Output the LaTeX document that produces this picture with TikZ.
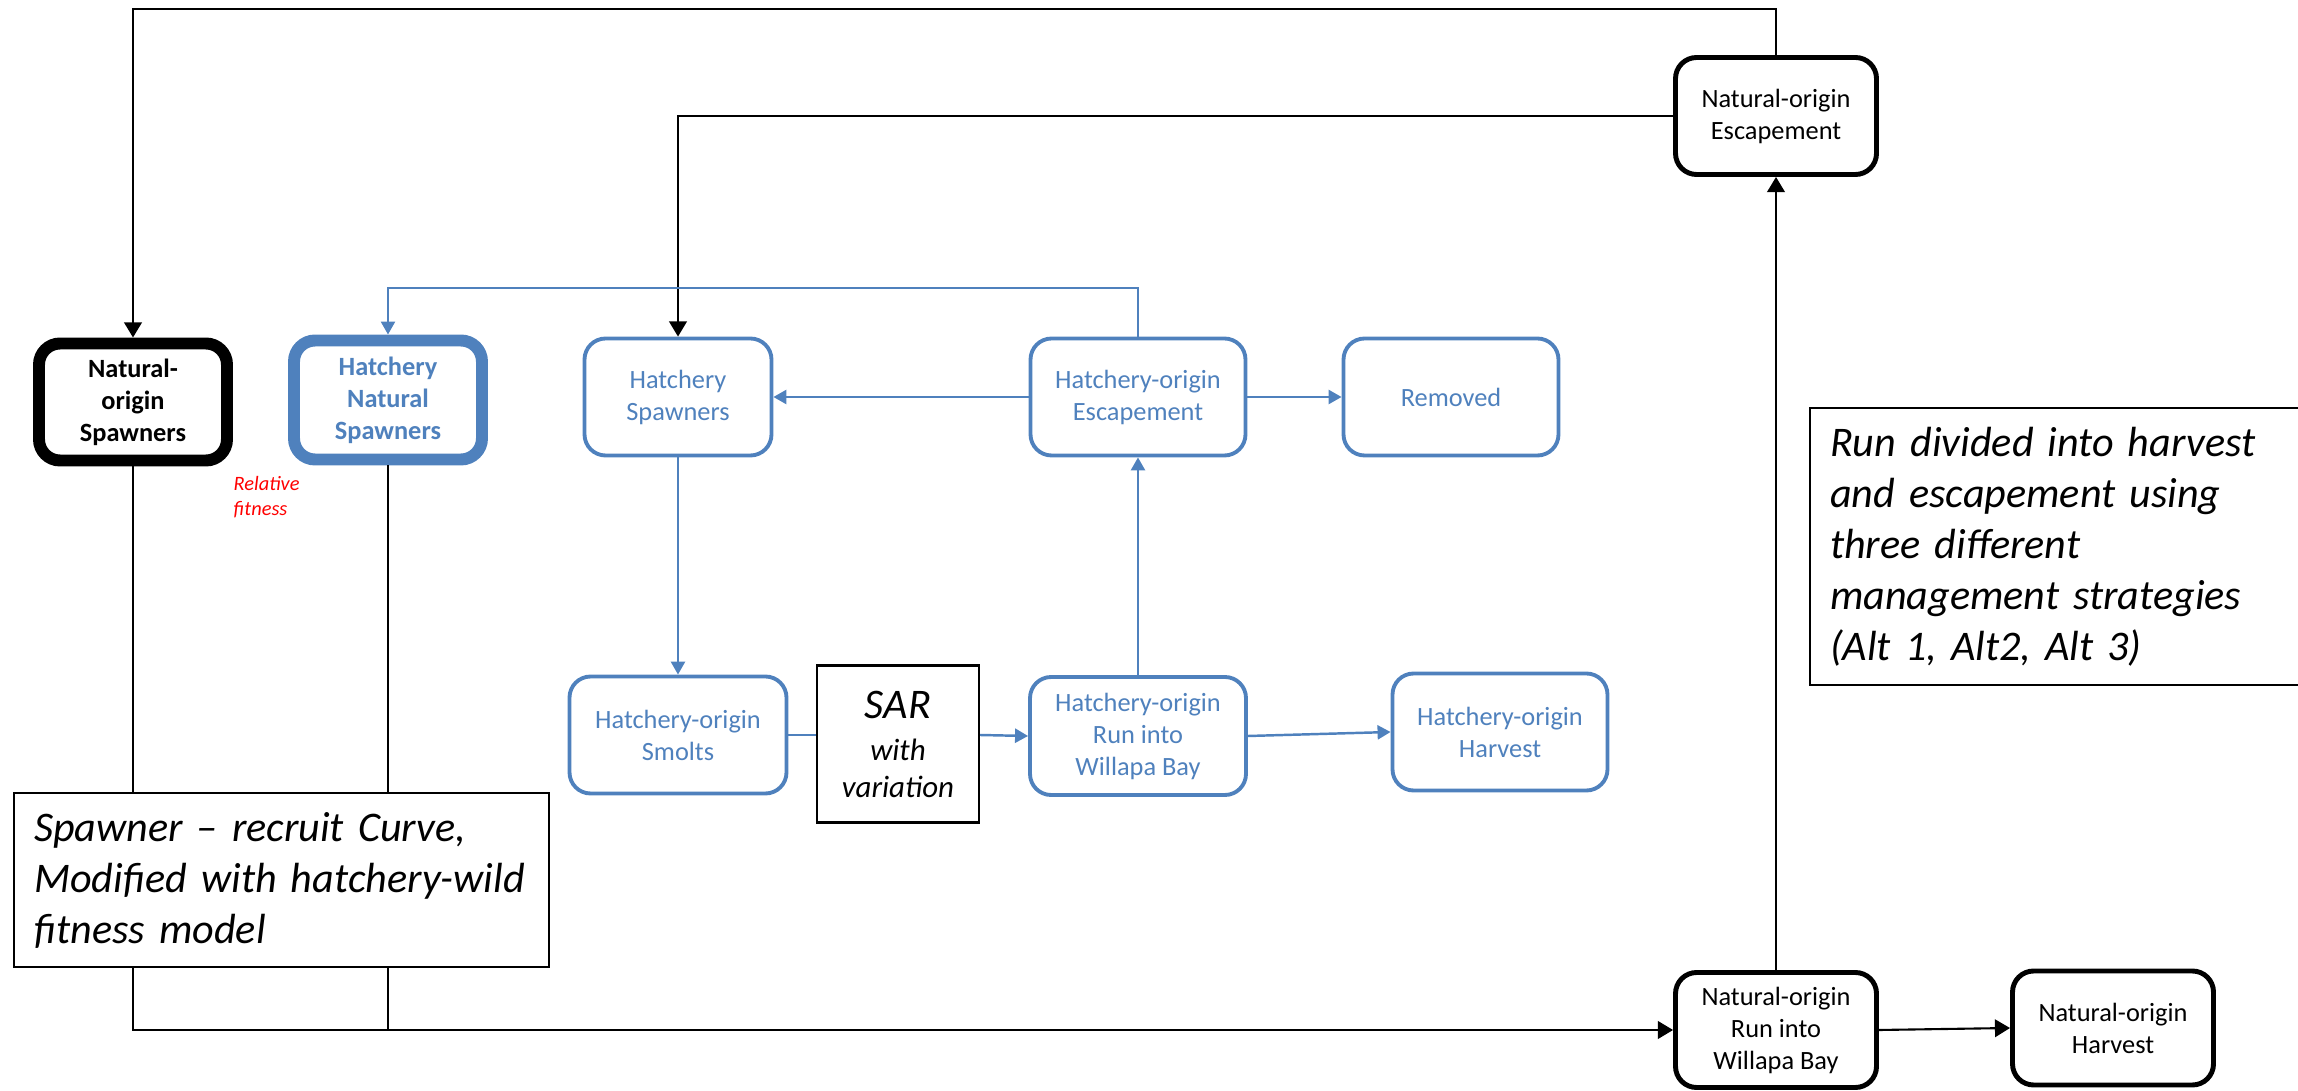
\documentclass[tikz,border=0pt]{standalone}
\usepackage{fontspec}
\setmainfont{Carlito}
\usepackage{xcolor}
\usetikzlibrary{arrows.meta, positioning, calc}
\definecolor{hatcheryblue}{HTML}{4F81BD}
\definecolor{fitnessred}{HTML}{FF0000}

\tikzset{
  natbox/.style={draw=black, line width=1.4pt, rounded corners=6pt, fill=white, align=center, inner sep=1pt, font=\fontsize{7.5}{9.1}\selectfont},
  hatbox/.style={draw=hatcheryblue, text=hatcheryblue, line width=1.1pt, rounded corners=6pt, fill=white, align=center, inner sep=1pt, font=\fontsize{7.5}{9.1}\selectfont},
  notebox/.style={draw=black, line width=0.6pt, fill=white, align=left, anchor=north west, inner xsep=0.2cm, font=\fontsize{12}{14.5}\selectfont\itshape},
  natflow/.style={black, line width=0.6pt},
  hatflow/.style={hatcheryblue, line width=0.7pt},
  natarrow/.style={natflow, -{Triangle[length=4.3pt,width=5pt]}},
  hatarrow/.style={hatflow, -{Triangle[length=3.7pt,width=4pt]}}
}

\begin{document}
\begin{tikzpicture}[x=0.1mm, y=-0.1mm]
  % Frame of the page
  \clip (0,0) rectangle (2298,1091);

  % Spawner boxes (top row)
  \node[natbox, line width=3.4pt, minimum width=1.88cm, minimum height=1.17cm, font=\fontsize{7.5}{9.1}\selectfont\bfseries] (nsp) at (133,402) {Natural-\\origin\\Spawners};
  \node[hatbox, line width=3.4pt, minimum width=1.88cm, minimum height=1.19cm, font=\fontsize{7.5}{9.1}\selectfont\bfseries] (hns) at (388,400) {Hatchery\\Natural\\Spawners};
  \node[hatbox, minimum width=1.87cm, minimum height=1.17cm] (hsp) at (678,397) {Hatchery\\Spawners};
  \node[hatbox, minimum width=2.15cm, minimum height=1.17cm] (hesc) at (1138,397) {Hatchery-origin\\Escapement};
  \node[hatbox, minimum width=2.15cm, minimum height=1.17cm] (rem) at (1451,397) {Removed};

  % Hatchery run (middle row)
  \node[hatbox, minimum width=2.17cm, minimum height=1.17cm] (hsm) at (678,735) {Hatchery-origin\\Smolts};
  \node[draw=black, line width=0.6pt, fill=white, align=center, minimum width=1.62cm, minimum height=1.57cm, inner sep=1pt, font=\fontsize{8.8}{10.5}\selectfont\itshape] (sar) at (898,744) {{\fontsize{12}{12}\selectfont SAR}\\[1.5pt]with\\variation};
  \node[hatbox, minimum width=2.16cm, minimum height=1.18cm] (hrun) at (1138,736) {Hatchery-origin\\Run into\\Willapa Bay};
  \node[hatbox, minimum width=2.15cm, minimum height=1.17cm] (hhar) at (1500,732) {Hatchery-origin\\Harvest};

  % Natural-origin escapement and run
  \node[natbox, minimum width=2.01cm, minimum height=1.17cm] (nesc) at (1776,116) {Natural-origin\\Escapement};
  \node[natbox, minimum width=2.01cm, minimum height=1.15cm] (nrun) at (1776,1030) {Natural-origin\\Run into\\Willapa Bay};
  \node[natbox, minimum width=2.01cm, minimum height=1.14cm] (nhar) at (2113,1028) {Natural-origin\\Harvest};

  % Fitness label
  \node[text=fitnessred, anchor=north west, align=left, inner sep=0pt, font=\fontsize{5.8}{7.1}\selectfont\itshape] (relfit) at (233,476) {Relative\\fitness};

  % Return loops
  \coordinate (toploop) at (0,9);
  \coordinate (blueloop) at (0,288);
  \draw[natarrow] (nesc.north) -- (nesc.north |- toploop) -| (nsp.north);
  \draw[natarrow] (nesc.west) -| (hsp.north);
  \draw[hatarrow] (hesc.north) -- (hesc.north |- blueloop) -| (hns.north);

  % Hatchery flows
  \draw[hatarrow] (hesc.west) -- (hsp.east);
  \draw[hatarrow] (hesc.east) -- (rem.west);
  \draw[hatarrow] (hsp.south) -- (hsm.north);
  \draw[hatflow] (hsm.east) -- (hsm.east -| sar.west);
  \draw[hatarrow] (sar.east |- hsm.east) -- (hrun.west);
  \draw[hatarrow] (hrun.east) -- (hhar.west);
  \draw[hatarrow] (hrun.north) -- (hesc.south);

  % Natural flows
  \draw[natarrow] (nsp.south) |- (nrun.west);
  \draw[natflow] (hns.south) -- (hns.south |- nrun.west);
  \draw[natarrow] (nrun.north) -- (nesc.south);
  \draw[natarrow] (nrun.east) -- (nhar.west);

  % Note boxes
  \node[notebox, minimum width=5.35cm, minimum height=1.74cm, text width=4.95cm] (srnote) at (13,792) {Spawner – recruit Curve,\\Modified with hatchery-wild\\fitness model};
  \node[notebox, minimum width=5.2cm, minimum height=2.77cm, text width=4.8cm] (runnote) at (1809,407) {Run divided into harvest\\and escapement using\\three different\\management strategies\\(Alt 1, Alt2, Alt 3)};
\end{tikzpicture}
\end{document}
